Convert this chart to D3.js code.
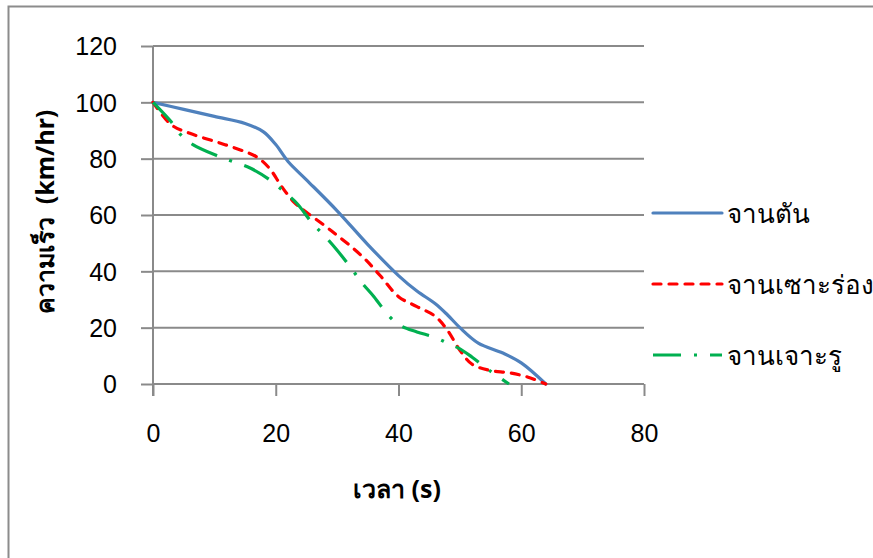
<!DOCTYPE html>
<html>
<head>
<meta charset="utf-8">
<script src="https://cdn.jsdelivr.net/npm/d3@7/dist/d3.min.js"></script>
<style>
  body { margin: 0; background: #fff; }
  svg { display: block; }
  .tick-label { font-family: "Liberation Sans Narrow", "Liberation Sans", "Noto Sans", sans-serif; font-size: 25px; fill: #000; }
  .title { font-family: "Noto Sans", "DejaVu Sans", sans-serif; font-size: 25px; font-weight: bold; fill: #000; }
  .legend-text { font-family: "Noto Sans", "DejaVu Sans", sans-serif; font-size: 26px; fill: #000; }
</style>
</head>
<body>
<div id="chart"></div>
<script>
// braking time vs speed for three disc types
var seriesNames = ["จานตัน", "จานเซาะร่อง", "จานเจาะรู"];

var solidTime  = [0, 5, 10, 15, 18, 20, 22, 25, 30, 35, 40, 43, 46, 48, 50, 53, 57, 60, 64];
var solidSpeed = [100, 97.5, 95, 92.5, 89.5, 85, 79, 72.5, 61.5, 49.5, 38.5, 33, 28.5, 24.5, 20, 14.5, 11, 7.5, 0];

var slotTime  = [0, 3, 6, 11, 15, 17, 19, 21, 23, 25, 29, 34, 37, 40, 43, 46, 48, 50, 52, 55, 58, 61, 64];
var slotSpeed = [100, 92, 89, 85.5, 82.5, 80.5, 76.5, 70, 64.5, 61, 54.5, 45.5, 38.5, 31, 27.5, 24, 19, 12, 7, 4.8, 4, 2.5, 0];

var drillTime  = [0, 3, 4.5, 6.5, 10.5, 13, 16, 19, 21.5, 23.5, 26, 28, 30, 32.5, 34, 36, 38.5, 40.5, 43, 46, 48, 50, 52, 55, 58];
var drillSpeed = [100, 93, 88.5, 85, 81, 79, 76.5, 72.5, 68, 64, 57, 52.5, 47.5, 40.5, 36, 31, 24, 20.5, 18.5, 16.5, 14.5, 12.5, 9.5, 4.5, 0];

var xTicks = [0, 20, 40, 60, 80];
var yTicks = [0, 20, 40, 60, 80, 100, 120];

var W = 873, H = 558;
var margin = {top: 46, right: 229, bottom: 174, left: 153};
var width = W - margin.left - margin.right;
var height = H - margin.top - margin.bottom;

var x = d3.scaleLinear().domain([0, 80]).range([0, width]);
var y = d3.scaleLinear().domain([0, 120]).range([height, 0]);

var svg = d3.select("#chart").append("svg")
	.attr("width", W)
	.attr("height", H);

// chart frame (top and left edges)
svg.append("path")
	.attr("d", "M8.5," + H + "V6.5H" + W)
	.attr("fill", "none")
	.attr("stroke", "#8c8c8c")
	.attr("stroke-width", 2);

var g = svg.append("g")
	.attr("transform", "translate(" + margin.left + "," + margin.top + ")");

// horizontal grid
g.append("g")
	.selectAll("line")
	.data(yTicks.filter(function(d) { return d > 0; }))
	.enter().append("line")
		.attr("x1", 0)
		.attr("x2", width)
		.attr("y1", function(d) { return y(d); })
		.attr("y2", function(d) { return y(d); })
		.attr("stroke", "#8a8a8a")
		.attr("stroke-width", 2);

// axes
var xAxis = d3.axisBottom(x).tickValues(xTicks).tickSize(12).tickPadding(28);
var yAxis = d3.axisLeft(y).tickValues(yTicks).tickSize(12).tickPadding(24);

var gx = g.append("g")
	.attr("transform", "translate(0," + height + ")")
	.call(xAxis);
var gy = g.append("g").call(yAxis);

[gx, gy].forEach(function(a) {
	a.select(".domain").remove();
	a.selectAll("line").attr("stroke", "#8a8a8a").attr("stroke-width", 2);
	a.selectAll("text").attr("class", "tick-label").attr("font-size", null).attr("font-family", null);
});
gy.selectAll("text").attr("dy", "0.35em");

g.append("line")
	.attr("x1", 0).attr("x2", width)
	.attr("y1", height).attr("y2", height)
	.attr("stroke", "#8a8a8a").attr("stroke-width", 2);
g.append("line")
	.attr("x1", 0).attr("x2", 0)
	.attr("y1", 0).attr("y2", height + 12)
	.attr("stroke", "#8a8a8a").attr("stroke-width", 2);

// axis titles
svg.append("text")
	.attr("class", "title")
	.attr("x", 397)
	.attr("y", 498)
	.attr("text-anchor", "middle")
	.text("เวลา (s)");

svg.append("text")
	.attr("class", "title")
	.attr("transform", "translate(54,212) rotate(-90)")
	.attr("text-anchor", "middle")
	.text("ความเร็ว\u00a0\u00a0(km/hr)");

// series
var series = [
	{name: seriesNames[0], t: solidTime, v: solidSpeed, color: "#4f81bd", dash: null, cap: "round"},
	{name: seriesNames[1], t: slotTime, v: slotSpeed, color: "#ff0000", dash: "8,8", cap: "round"},
	{name: seriesNames[2], t: drillTime, v: drillSpeed, color: "#00b050", dash: "28,13,3,13", cap: "butt"}
];

var line = d3.line()
	.x(function(d) { return x(d[0]); })
	.y(function(d) { return y(d[1]); })
	.curve(d3.curveCatmullRom.alpha(0.5));

series.forEach(function(s) {
	var pts = s.t.map(function(t, i) { return [t, s.v[i]]; });
	g.append("path")
		.attr("d", line(pts))
		.attr("fill", "none")
		.attr("stroke", s.color)
		.attr("stroke-width", 3.2)
		.attr("stroke-linecap", s.cap)
		.attr("stroke-dasharray", s.dash);
});

// legend
var legend = svg.append("g").attr("transform", "translate(653,213)");
series.forEach(function(s, i) {
	var row = legend.append("g").attr("transform", "translate(0," + (i * 71) + ")");
	row.append("line")
		.attr("x1", 0).attr("x2", 69)
		.attr("stroke", s.color)
		.attr("stroke-width", 3.2)
		.attr("stroke-linecap", s.cap)
		.attr("stroke-dasharray", s.dash);
	row.append("text")
		.attr("class", "legend-text")
		.attr("x", 74)
		.attr("y", 10)
		.text(s.name);
});
</script>
</body>
</html>
